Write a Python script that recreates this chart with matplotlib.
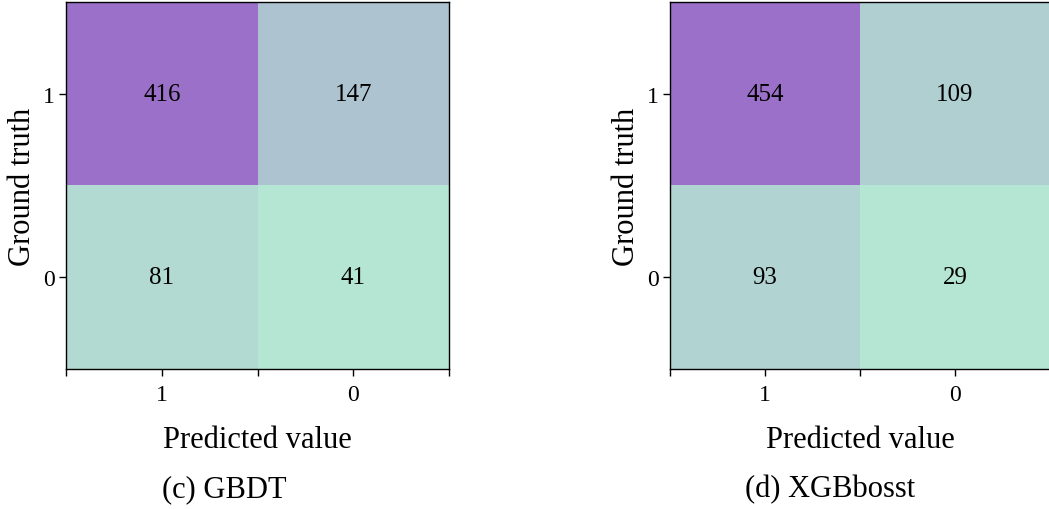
import numpy as np
import matplotlib
matplotlib.use('Agg')
import matplotlib.pyplot as plt
from matplotlib.colors import LinearSegmentedColormap

plt.rcParams['font.family'] = ['Liberation Serif', 'DejaVu Serif']
plt.rcParams['xtick.labelsize'] = 17
plt.rcParams['ytick.labelsize'] = 17

# confusion matrices, rows = ground truth (1, 0), cols = predicted (1, 0)
labels = ['1', '0']
gbdt = [[416, 147],
        [81, 41]]
xgb = [[454, 109],
       [93, 29]]
captions = ['(c) GBDT', '(d) XGBbosst']

cmap = LinearSegmentedColormap.from_list('mintpurple', ['#b5e6d4', '#9b70c8'])

fig = plt.figure(figsize=(10.49, 5.10), dpi=100)
W, H = 1049.0, 510.0
boxes = [(66, 3, 383, 367), (670, 3, 380, 367)]
cap_x = [224, 830]

for (x0, y0, w, h), cm, cap, cx in zip(boxes, [gbdt, xgb], captions, cap_x):
    ax = fig.add_axes([x0 / W, 1 - (y0 + h) / H, w / W, h / H])
    m = np.array(cm)
    ax.imshow(m, cmap=cmap, vmin=m.min(), vmax=m.max(), aspect='auto',
              interpolation='nearest')
    for i in range(2):
        for j in range(2):
            ax.text(j, i, str(m[i, j]), ha='center', va='center', fontsize=18)
    ax.set_xticks([0, 1])
    ax.set_xticklabels(labels)
    ax.set_yticks([0, 1])
    ax.set_yticklabels(labels)
    ax.set_xticks([-0.5, 0.5, 1.5], minor=True)
    ax.tick_params(axis='x', which='both', length=5, width=1, pad=6)
    ax.tick_params(axis='y', length=5, width=1, pad=3)
    for t in ax.get_xticklabels() + ax.get_yticklabels():
        t.set_fontsize(17)
    ax.set_xlabel('Predicted value', fontsize=22, labelpad=14)
    ax.set_ylabel('Ground truth', fontsize=22, labelpad=4)
    for s in ax.spines.values():
        s.set_linewidth(1)
    fig.text(cx / W, 1 - 490 / H, cap, ha='center', va='center', fontsize=22)

fig.savefig('out.png', dpi=100)
